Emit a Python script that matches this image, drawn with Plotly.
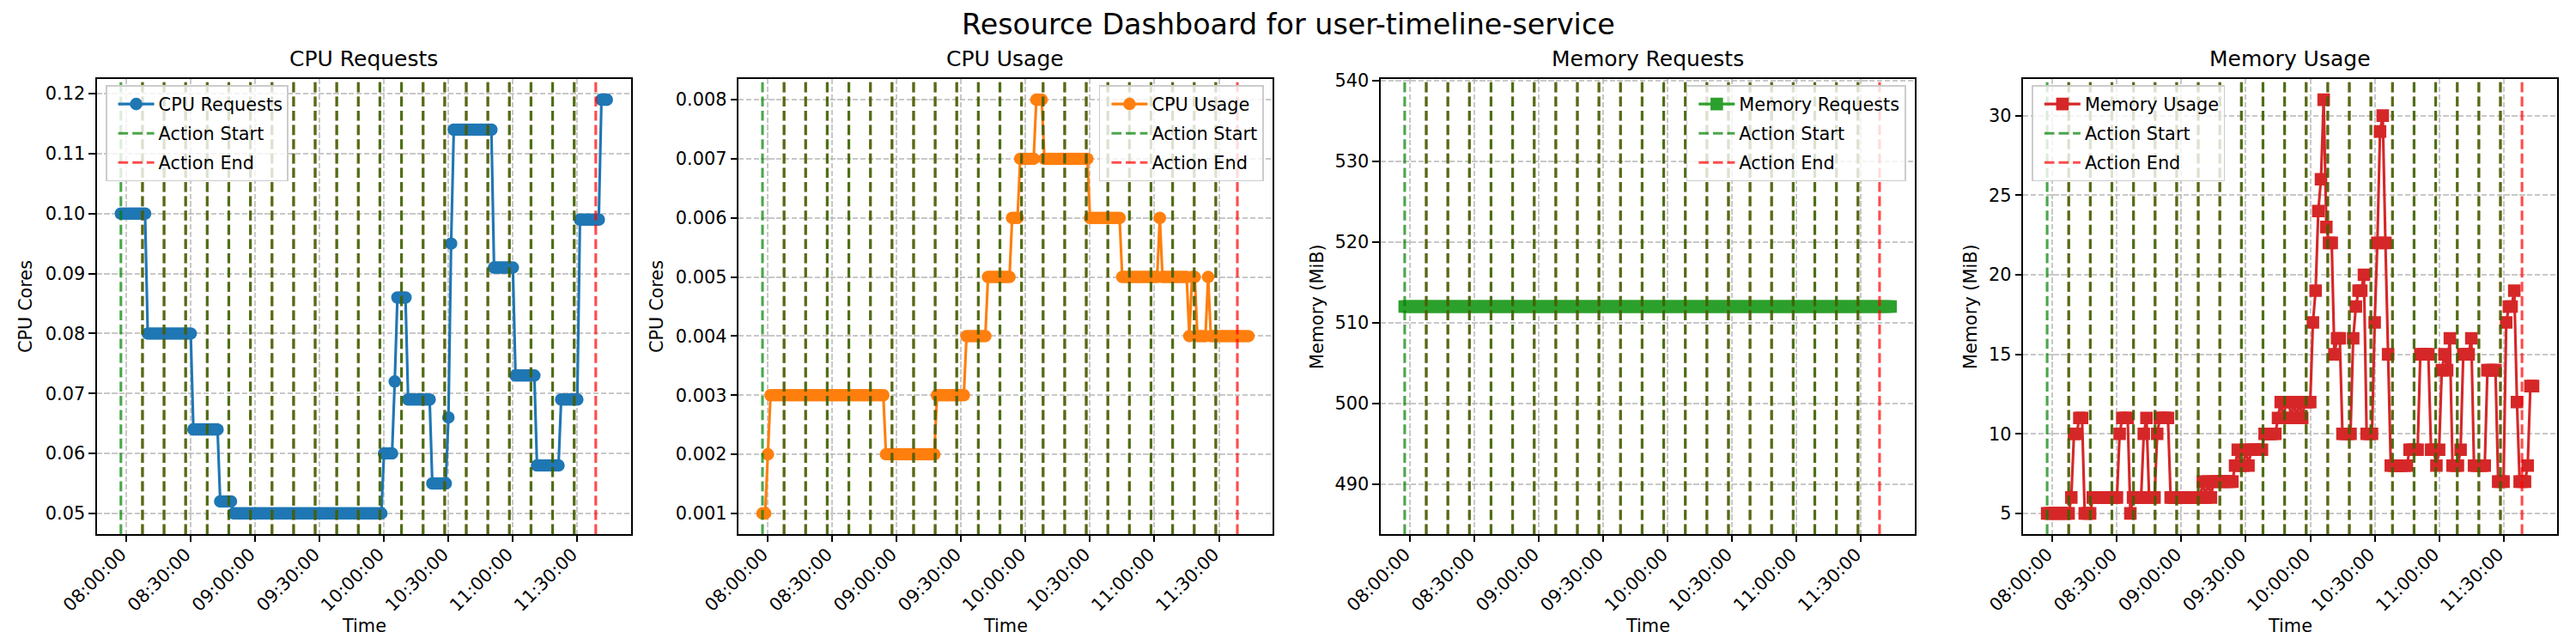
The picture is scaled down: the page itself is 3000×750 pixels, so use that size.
import pandas as pd
import plotly.graph_objects as go

# ---------------- data ----------------
service_name = "user-timeline-service"
sample_start = "2024-01-01 07:57:30"
sample_count = 182
sample_step = "75s"
times = pd.date_range(sample_start, periods=sample_count, freq=sample_step)

cpu_requests = [
    0.100, 0.100, 0.100, 0.100, 0.100, 0.100, 0.100, 0.100, 0.100, 0.100,
    0.080, 0.080, 0.080, 0.080, 0.080, 0.080, 0.080, 0.080, 0.080, 0.080,
    0.080, 0.080, 0.080, 0.080, 0.080, 0.080, 0.080, 0.064, 0.064, 0.064,
    0.064, 0.064, 0.064, 0.064, 0.064, 0.064, 0.064, 0.052, 0.052, 0.052,
    0.052, 0.052, 0.050, 0.050, 0.050, 0.050, 0.050, 0.050, 0.050, 0.050,
    0.050, 0.050, 0.050, 0.050, 0.050, 0.050, 0.050, 0.050, 0.050, 0.050,
    0.050, 0.050, 0.050, 0.050, 0.050, 0.050, 0.050, 0.050, 0.050, 0.050,
    0.050, 0.050, 0.050, 0.050, 0.050, 0.050, 0.050, 0.050, 0.050, 0.050,
    0.050, 0.050, 0.050, 0.050, 0.050, 0.050, 0.050, 0.050, 0.050, 0.050,
    0.050, 0.050, 0.050, 0.050, 0.050, 0.050, 0.050, 0.050, 0.060, 0.060,
    0.060, 0.060, 0.072, 0.086, 0.086, 0.086, 0.086, 0.069, 0.069, 0.069,
    0.069, 0.069, 0.069, 0.069, 0.069, 0.069, 0.055, 0.055, 0.055, 0.055,
    0.055, 0.055, 0.066, 0.095, 0.114, 0.114, 0.114, 0.114, 0.114, 0.114,
    0.114, 0.114, 0.114, 0.114, 0.114, 0.114, 0.114, 0.114, 0.114, 0.091,
    0.091, 0.091, 0.091, 0.091, 0.091, 0.091, 0.091, 0.073, 0.073, 0.073,
    0.073, 0.073, 0.073, 0.073, 0.073, 0.058, 0.058, 0.058, 0.058, 0.058,
    0.058, 0.058, 0.058, 0.058, 0.069, 0.069, 0.069, 0.069, 0.069, 0.069,
    0.069, 0.099, 0.099, 0.099, 0.099, 0.099, 0.099, 0.099, 0.099, 0.119,
    0.119, 0.119,
]

cpu_usage = [
    0.001, 0.001, 0.002, 0.003, 0.003, 0.003, 0.003, 0.003, 0.003, 0.003,
    0.003, 0.003, 0.003, 0.003, 0.003, 0.003, 0.003, 0.003, 0.003, 0.003,
    0.003, 0.003, 0.003, 0.003, 0.003, 0.003, 0.003, 0.003, 0.003, 0.003,
    0.003, 0.003, 0.003, 0.003, 0.003, 0.003, 0.003, 0.003, 0.003, 0.003,
    0.003, 0.003, 0.003, 0.003, 0.003, 0.003, 0.002, 0.002, 0.002, 0.002,
    0.002, 0.002, 0.002, 0.002, 0.002, 0.002, 0.002, 0.002, 0.002, 0.002,
    0.002, 0.002, 0.002, 0.002, 0.002, 0.003, 0.003, 0.003, 0.003, 0.003,
    0.003, 0.003, 0.003, 0.003, 0.003, 0.003, 0.004, 0.004, 0.004, 0.004,
    0.004, 0.004, 0.004, 0.004, 0.005, 0.005, 0.005, 0.005, 0.005, 0.005,
    0.005, 0.005, 0.005, 0.006, 0.006, 0.006, 0.007, 0.007, 0.007, 0.007,
    0.007, 0.007, 0.008, 0.008, 0.008, 0.007, 0.007, 0.007, 0.007, 0.007,
    0.007, 0.007, 0.007, 0.007, 0.007, 0.007, 0.007, 0.007, 0.007, 0.007,
    0.007, 0.007, 0.006, 0.006, 0.006, 0.006, 0.006, 0.006, 0.006, 0.006,
    0.006, 0.006, 0.006, 0.006, 0.005, 0.005, 0.005, 0.005, 0.005, 0.005,
    0.005, 0.005, 0.005, 0.005, 0.005, 0.005, 0.005, 0.005, 0.006, 0.005,
    0.005, 0.005, 0.005, 0.005, 0.005, 0.005, 0.005, 0.005, 0.005, 0.004,
    0.005, 0.005, 0.004, 0.004, 0.004, 0.004, 0.005, 0.004, 0.004, 0.004,
    0.004, 0.004, 0.004, 0.004, 0.004, 0.004, 0.004, 0.004, 0.004, 0.004,
    0.004, 0.004,
]

memory_requests = [
    512, 512, 512, 512, 512, 512, 512, 512, 512, 512,
    512, 512, 512, 512, 512, 512, 512, 512, 512, 512,
    512, 512, 512, 512, 512, 512, 512, 512, 512, 512,
    512, 512, 512, 512, 512, 512, 512, 512, 512, 512,
    512, 512, 512, 512, 512, 512, 512, 512, 512, 512,
    512, 512, 512, 512, 512, 512, 512, 512, 512, 512,
    512, 512, 512, 512, 512, 512, 512, 512, 512, 512,
    512, 512, 512, 512, 512, 512, 512, 512, 512, 512,
    512, 512, 512, 512, 512, 512, 512, 512, 512, 512,
    512, 512, 512, 512, 512, 512, 512, 512, 512, 512,
    512, 512, 512, 512, 512, 512, 512, 512, 512, 512,
    512, 512, 512, 512, 512, 512, 512, 512, 512, 512,
    512, 512, 512, 512, 512, 512, 512, 512, 512, 512,
    512, 512, 512, 512, 512, 512, 512, 512, 512, 512,
    512, 512, 512, 512, 512, 512, 512, 512, 512, 512,
    512, 512, 512, 512, 512, 512, 512, 512, 512, 512,
    512, 512, 512, 512, 512, 512, 512, 512, 512, 512,
    512, 512, 512, 512, 512, 512, 512, 512, 512, 512,
    512, 512,
]

memory_usage = [
    5, 5, 5, 5, 5, 5, 5, 5, 5, 6,
    10, 10, 11, 11, 5, 5, 5, 6, 6, 6,
    6, 6, 6, 6, 6, 6, 6, 10, 11, 11,
    11, 5, 6, 6, 6, 6, 10, 11, 6, 6,
    6, 10, 11, 11, 11, 11, 6, 6, 6, 6,
    6, 6, 6, 6, 6, 6, 6, 6, 7, 6,
    7, 6, 7, 7, 7, 7, 7, 7, 7, 7,
    8, 9, 8, 8, 9, 8, 9, 9, 9, 9,
    9, 10, 10, 10, 10, 10, 11, 12, 11, 12,
    12, 11, 12, 11, 12, 11, 12, 12, 12, 17,
    19, 24, 26, 31, 23, 22, 22, 15, 16, 16,
    10, 10, 10, 10, 16, 18, 19, 19, 20, 10,
    10, 10, 17, 22, 29, 30, 22, 15, 8, 8,
    8, 8, 8, 8, 8, 9, 9, 9, 9, 15,
    15, 15, 15, 9, 9, 8, 9, 14, 15, 14,
    16, 8, 8, 8, 9, 15, 15, 15, 16, 8,
    8, 8, 8, 8, 14, 14, 14, 14, 7, 7,
    7, 17, 18, 18, 19, 12, 7, 7, 7, 8,
    13, 13,
]

action_day = "2024-01-01 "
action_starts = [
    "07:57:30", "08:07:33", "08:17:36", "08:27:39", "08:37:42", "08:47:45",
    "08:57:48", "09:07:51", "09:17:54", "09:27:57", "09:38:00", "09:48:03",
    "09:58:06", "10:08:09", "10:18:12", "10:28:15", "10:38:18", "10:48:21",
    "10:58:24", "11:08:27", "11:18:30", "11:28:33",
]
action_ends = [
    "08:07:33", "08:17:36", "08:27:39", "08:37:42", "08:47:45", "08:57:48",
    "09:07:51", "09:17:54", "09:27:57", "09:38:00", "09:48:03", "09:58:06",
    "10:08:09", "10:18:12", "10:28:15", "10:38:18", "10:48:21", "10:58:24",
    "11:08:27", "11:18:30", "11:28:33", "11:38:36",
]

panel_titles = ["CPU Requests", "CPU Usage", "Memory Requests", "Memory Usage"]
panel_ylabels = ["CPU Cores", "CPU Cores", "Memory (MiB)", "Memory (MiB)"]
series_list = [cpu_requests, cpu_usage, memory_requests, memory_usage]
series_colors = ["#1f77b4", "#ff7f0e", "#2ca02c", "#d62728"]
series_symbols = ["circle", "circle", "square", "square"]
tick_formats = [".2f", ".3f", "d", "d"]
tick_steps = [0.01, 0.001, 10, 5]
legend_sides = ["left", "right", "right", "left"]

# ---------------- layout geometry (pixels of the 3000x750 figure) ----------------
W, H = 3000, 750
panel_left = [112.5, 859.7, 1607.6, 2355.8]
panel_width = 622.5
ax_top, ax_bottom = 92, 622
ylabel_x = [30, 765, 1534, 2295]
FONT = "DejaVu Sans"
PT = 150 / 72.0  # px per point

def px_x(v):
    return v / W

def px_y(v):
    return 1 - v / H

green = "rgba(0,128,0,0.7)"
red = "rgba(255,0,0,0.7)"
vdash = "%.1fpx,%.1fpx" % (3.7 * 1.5 * PT, 1.6 * 1.5 * PT)
gdash = "%.1fpx,%.1fpx" % (3.7 * 0.8 * PT, 1.6 * 0.8 * PT)

# x range like matplotlib's 5% margins
t0, t1 = times[0], times[-1]
span = t1 - t0
x_range = [t0 - 0.05 * span, t1 + 0.05 * span]

fig = go.Figure()
shapes = []
annotations = []
layout_axes = {}

for i in range(4):
    n = i + 1
    xa = "x" if n == 1 else "x%d" % n
    ya = "y" if n == 1 else "y%d" % n
    lg = "legend" if n == 1 else "legend%d" % n
    vals = series_list[i]

    fig.add_trace(go.Scatter(
        x=times, y=vals, mode="lines+markers", name=panel_titles[i],
        line=dict(color=series_colors[i], width=1.5 * PT),
        marker=dict(symbol=series_symbols[i], size=6 * PT, color=series_colors[i],
                    line=dict(color=series_colors[i], width=1.0 * PT)),
        xaxis=xa, yaxis=ya, legend=lg, legendgroup="s%d" % n, showlegend=True,
    ))
    fig.add_trace(go.Scatter(
        x=[None], y=[None], mode="lines", name="Action Start",
        line=dict(color=green, width=1.5 * PT, dash=vdash),
        xaxis=xa, yaxis=ya, legend=lg, legendgroup="a%d" % n, showlegend=True,
    ))
    fig.add_trace(go.Scatter(
        x=[None], y=[None], mode="lines", name="Action End",
        line=dict(color=red, width=1.5 * PT, dash=vdash),
        xaxis=xa, yaxis=ya, legend=lg, legendgroup="e%d" % n, showlegend=True,
    ))

    for s, e in zip(action_starts, action_ends):
        for t, c in ((s, green), (e, red)):
            shapes.append(dict(
                type="line", xref=xa, yref=ya + " domain",
                x0=action_day + t, x1=action_day + t, y0=0, y1=1,
                line=dict(color=c, width=1.5 * PT, dash=vdash), layer="above",
            ))

    lo, hi = min(vals), max(vals)
    if lo == hi:
        lo, hi = lo - 0.05 * abs(lo), hi + 0.05 * abs(hi)
    m = 0.05 * (hi - lo)
    y_range = [lo - m, hi + m]

    x0 = px_x(panel_left[i])
    x1 = px_x(panel_left[i] + panel_width)
    common = dict(
        showline=True, linecolor="black", linewidth=0.8 * PT, mirror=True,
        ticks="outside", ticklen=3.5 * PT, tickwidth=0.8 * PT, tickcolor="black",
        showgrid=True, gridcolor="rgba(176,176,176,0.7)", gridwidth=0.8 * PT,
        griddash=gdash, zeroline=False,
        tickfont=dict(family=FONT, size=10 * PT, color="black"),
    )
    layout_axes["xaxis" if n == 1 else "xaxis%d" % n] = dict(
        common, domain=[x0, x1], anchor=ya, type="date", range=x_range,
        tickformat="%H:%M:%S", tick0="2024-01-01 08:00:00", dtick=30 * 60 * 1000,
        tickangle=-45, ticklabelstandoff=-6, ticklabelshift=-6,
    )
    layout_axes["yaxis" if n == 1 else "yaxis%d" % n] = dict(
        common, domain=[px_y(ax_bottom), px_y(ax_top)], anchor=xa, range=y_range,
        tickformat=tick_formats[i], dtick=tick_steps[i], tick0=0,
    )

    pad = 0.5 * 10 * PT
    if legend_sides[i] == "left":
        lx, xanc = px_x(panel_left[i] + pad), "left"
    else:
        lx, xanc = px_x(panel_left[i] + panel_width - pad), "right"
    layout_axes[lg] = dict(
        x=lx, xanchor=xanc, y=px_y(ax_top + pad - 3), yanchor="top",
        font=dict(family=FONT, size=10 * PT, color="black"),
        bgcolor="rgba(255,255,255,0.8)", bordercolor="#cccccc", borderwidth=0.8 * PT,
        itemwidth=42, tracegroupgap=4, indentation=8,
    )

    cx = px_x(panel_left[i] + panel_width / 2)
    annotations.append(dict(text=panel_titles[i], x=cx, y=px_y(68), xref="paper", yref="paper",
                            showarrow=False, xanchor="center", yanchor="middle",
                            font=dict(family=FONT, size=12 * PT, color="black")))
    annotations.append(dict(text="Time", x=cx, y=px_y(729), xref="paper", yref="paper",
                            showarrow=False, xanchor="center", yanchor="middle",
                            font=dict(family=FONT, size=10 * PT, color="black")))
    annotations.append(dict(text=panel_ylabels[i], x=px_x(ylabel_x[i]), y=px_y((ax_top + ax_bottom) / 2),
                            xref="paper", yref="paper", textangle=-90,
                            showarrow=False, xanchor="center", yanchor="middle",
                            font=dict(family=FONT, size=10 * PT, color="black")))

annotations.append(dict(text="Resource Dashboard for " + service_name, x=0.5, y=px_y(29),
                        xref="paper", yref="paper", showarrow=False,
                        xanchor="center", yanchor="middle",
                        font=dict(family=FONT, size=16 * PT, color="black")))

fig.update_layout(
    width=W, height=H, margin=dict(l=0, r=0, t=0, b=0, autoexpand=False),
    paper_bgcolor="white", plot_bgcolor="white",
    shapes=shapes, annotations=annotations,
    font=dict(family=FONT, color="black"),
    **layout_axes,
)

fig.write_html("out.html", config={"displayModeBar": False},
               post_script="document.body.style.margin='0px';")
